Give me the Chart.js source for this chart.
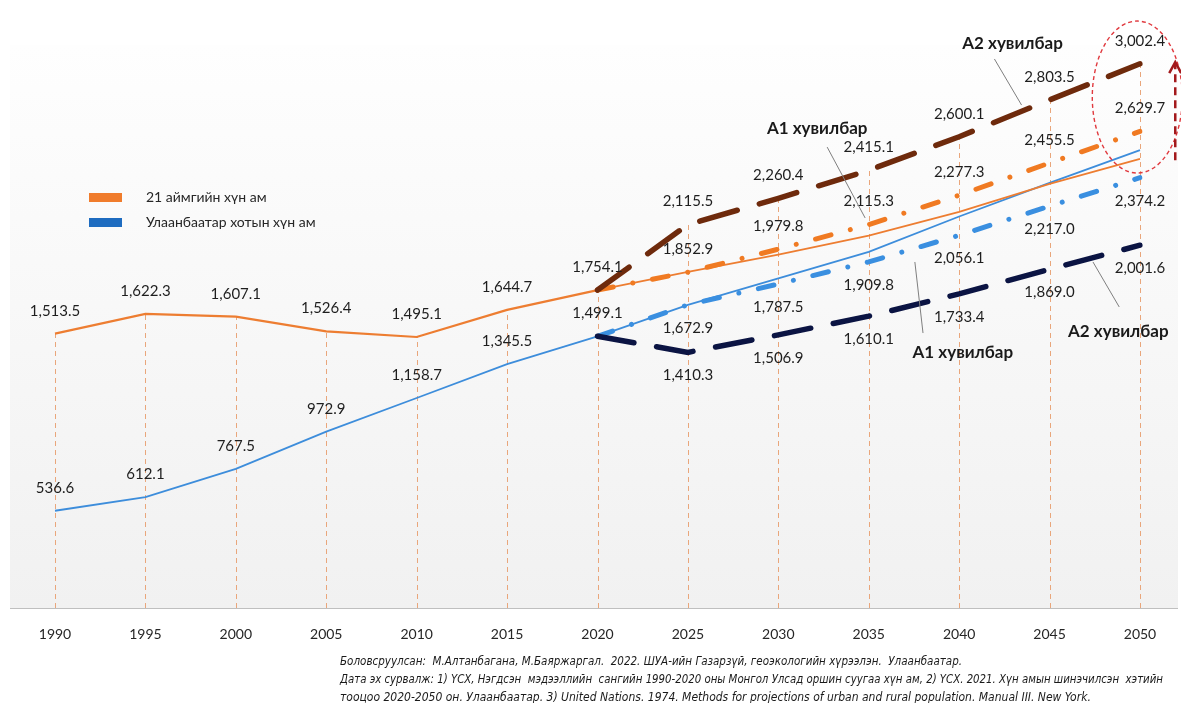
<!DOCTYPE html>
<html lang="mn">
<head>
  <meta charset="UTF-8">
  <title>Хүн амын төсөөлөл</title>
  <script src="https://cdn.jsdelivr.net/npm/chart.js"></script>
  <style>
    html, body { margin: 0; padding: 0; background: #fff; }
    #wrap { position: relative; width: 1181px; height: 703px; }
  </style>
</head>
<body>
  <div id="wrap"><canvas id="popChart" width="1181" height="703"></canvas></div>

  <script>
    // categories
    const years = ['1990', '1995', '2000', '2005', '2010', '2015', '2020', '2025', '2030', '2035', '2040', '2045', '2050'];

    // 1990-2020, thousand people
    const aimagHist = [1513.5, 1622.3, 1607.1, 1526.4, 1495.1, 1644.7, 1754.1];
    const ubHist = [536.6, 612.1, 767.5, 972.9, 1158.7, 1345.5, 1499.1];

    // 2020-2050 thin trend lines (no labels)
    const aimagTrend = [1754.1, 1855, 1950, 2055, 2185, 2340, 2478];
    const ubTrend = [1499.1, 1672, 1818, 1965, 2160, 2345, 2526];

    // 2020-2050 scenarios
    const aimagA1 = [1754.1, 1852.9, 1979.8, 2115.3, 2277.3, 2455.5, 2629.7];
    const aimagA2 = [1754.1, 2115.5, 2260.4, 2415.1, 2600.1, 2803.5, 3002.4];
    const ubA1 = [1499.1, 1672.9, 1787.5, 1909.8, 2056.1, 2217.0, 2374.2];
    const ubA2 = [1499.1, 1410.3, 1506.9, 1610.1, 1733.4, 1869.0, 2001.6];

    const legendNames = ['21 аймгийн хүн ам', 'Улаанбаатар хотын хүн ам'];
    const scenarioNames = ['A1 хувилбар', 'A2 хувилбар'];
    const sourceLines = [
      'Боловсруулсан:  М.Алтанбагана, М.Баяржаргал.  2022. ШУА-ийн Газарзүй, геоэкологийн хүрээлэн.  Улаанбаатар.',
      'Дата эх сурвалж: 1) ҮСХ, Нэгдсэн  мэдээллийн  сангийн 1990-2020 оны Монгол Улсад оршин суугаа хүн ам, 2) ҮСХ. 2021. Хүн амын шинэчилсэн  хэтийн',
      'тооцоо 2020-2050 он. Улаанбаатар. 3) United Nations. 1974. Methods for projections of urban and rural population. Manual III. New York.'
    ];

    // annotation anchors in data units: [category index, value]
    const noteA2top = { text: scenarioNames[1], at: [10.59, 3117], line: [[10.39, 3029], [10.69, 2775]] };
    const noteA1top = { text: scenarioNames[0], at: [8.43, 2648], line: [[8.54, 2543], [8.96, 2152]] };
    const noteA1bot = { text: scenarioNames[0], at: [10.04, 1412], line: [[9.51, 1909], [9.60, 1517]] };
    const noteA2bot = { text: scenarioNames[1], at: [11.76, 1528], line: [[11.48, 1909], [11.77, 1661]] };

    const hist = arr => arr.concat(new Array(years.length - arr.length).fill(null));
    const proj = arr => new Array(years.length - arr.length).fill(null).concat(arr);

    const FONT = "Lato, 'Open Sans', sans-serif";
    const fmt = v => v.toLocaleString('en-US', { minimumFractionDigits: 1, maximumFractionDigits: 1 });

    // background panel + axis line
    const panelPlugin = {
      id: 'panel',
      beforeDraw(chart) {
        const { ctx, chartArea: a } = chart;
        const top = a.top + 17, left = 10, right = chart.width - 3;
        const g = ctx.createLinearGradient(0, top, 0, a.bottom);
        g.addColorStop(0, '#fefefe');
        g.addColorStop(1, '#f1f1f1');
        ctx.save();
        ctx.fillStyle = g;
        ctx.fillRect(left, top, right - left, a.bottom - top);
        ctx.strokeStyle = '#bfbfbf';
        ctx.lineWidth = 1;
        ctx.beginPath();
        ctx.moveTo(left, a.bottom + 0.5);
        ctx.lineTo(right, a.bottom + 0.5);
        ctx.stroke();
        ctx.restore();
      }
    };

    // dashed drop lines from axis to highest value
    const dropPlugin = {
      id: 'drops',
      beforeDatasetsDraw(chart) {
        const { ctx, chartArea: a, scales } = chart;
        ctx.save();
        ctx.strokeStyle = '#e9a67b';
        ctx.lineWidth = 1;
        ctx.setLineDash([5, 4]);
        years.forEach((y, i) => {
          let top = null;
          chart.data.datasets.forEach(ds => {
            const v = ds.data[i];
            if (v != null && (top == null || v > top)) top = v;
          });
          if (top == null) return;
          const x = Math.round(scales.x.getPixelForValue(i)) + 0.5;
          ctx.beginPath();
          ctx.moveTo(x, a.bottom);
          ctx.lineTo(x, scales.y.getPixelForValue(top));
          ctx.stroke();
        });
        ctx.restore();
      }
    };

    // value labels
    const labelPlugin = {
      id: 'vals',
      afterDatasetsDraw(chart) {
        const { ctx, scales } = chart;
        ctx.save();
        ctx.font = '15px ' + FONT;
        ctx.fillStyle = '#1e1e1e';
        ctx.textAlign = 'center';
        ctx.textBaseline = 'middle';
        chart.data.datasets.forEach(ds => {
          if (!ds.lbl) return;
          ds.data.forEach((v, i) => {
            if (v == null || i < (ds.lblFrom || 0)) return;
            const x = scales.x.getPixelForValue(i);
            const y = scales.y.getPixelForValue(v) + (ds.lbl === 'above' ? -23 : 23);
            ctx.fillText(fmt(v), x, y);
          });
        });
        ctx.restore();
      }
    };

    // legend, scenario notes, ellipse, arrow, source
    const notesPlugin = {
      id: 'notes',
      afterDraw(chart) {
        const { ctx, scales, chartArea: a } = chart;
        const px = p => [scales.x.getPixelForValue(p[0]), scales.y.getPixelForValue(p[1])];
        ctx.save();

        // legend
        const legendDs = chart.data.datasets.filter(d => d.legendColor);
        legendDs.forEach((d, k) => {
          const y = 197 + k * 25;
          ctx.fillStyle = d.legendColor;
          ctx.fillRect(89, y - 4, 33, 9);
          ctx.fillStyle = '#262626';
          ctx.font = '14px ' + FONT;
          ctx.textAlign = 'left';
          ctx.textBaseline = 'middle';
          ctx.fillText(d.label, 146, y);
        });

        // scenario notes
        [noteA2top, noteA1top, noteA1bot, noteA2bot].forEach(n => {
          const p1 = px(n.line[0]), p2 = px(n.line[1]);
          ctx.strokeStyle = '#7f7f7f';
          ctx.lineWidth = 1;
          ctx.beginPath();
          ctx.moveTo(p1[0], p1[1]);
          ctx.lineTo(p2[0], p2[1]);
          ctx.stroke();
          const t = px(n.at);
          ctx.fillStyle = '#1a1a1a';
          ctx.font = 'bold 17px ' + FONT;
          ctx.textAlign = 'center';
          ctx.textBaseline = 'middle';
          ctx.fillText(n.text, t[0], t[1]);
        });

        // ellipse round the 2050 values
        const c = px([11.97, 2819]);
        ctx.strokeStyle = '#e0393e';
        ctx.lineWidth = 1.4;
        ctx.setLineDash([4, 3]);
        ctx.beginPath();
        ctx.ellipse(c[0], c[1], 45, 76, 0, 0, Math.PI * 2);
        ctx.stroke();

        // upward arrow
        const b = px([12.39, 2470]), t = px([12.39, 3012]);
        ctx.strokeStyle = '#a3191c';
        ctx.lineWidth = 2.5;
        ctx.setLineDash([8, 5]);
        ctx.beginPath();
        ctx.moveTo(b[0], b[1]);
        ctx.lineTo(t[0], t[1] + 2);
        ctx.stroke();
        ctx.setLineDash([]);
        ctx.beginPath();
        ctx.moveTo(t[0] - 6, t[1] + 11);
        ctx.lineTo(t[0], t[1]);
        ctx.lineTo(t[0] + 6, t[1] + 11);
        ctx.stroke();

        // source
        ctx.fillStyle = '#1a1a1a';
        ctx.font = "italic 12px 'Liberation Sans Narrow', 'DejaVu Sans Condensed', sans-serif";
        ctx.textAlign = 'left';
        ctx.textBaseline = 'middle';
        const widths = [622, 823, 792];
        sourceLines.forEach((s, k) => {
          ctx.fillText(s, 340, 662 + k * 18, widths[k]);
        });
        ctx.restore();
      }
    };

    const ctx = document.getElementById('popChart').getContext('2d');
    const popChart = new Chart(ctx, {
      type: 'line',
      data: {
        labels: years,
        datasets: [
          {
            label: 'A2 21 аймаг', data: proj(aimagA2), borderColor: '#6e2a0c', borderWidth: 5.5,
            borderDash: [39, 23], borderCapStyle: 'round', lbl: 'above', lblFrom: 7
          },
          {
            label: 'A2 Улаанбаатар', data: proj(ubA2), borderColor: '#0b1443', borderWidth: 5.5,
            borderDash: [37, 23], borderCapStyle: 'round', lbl: 'below', lblFrom: 7
          },
          {
            label: 'A1 21 аймаг', data: proj(aimagA1), borderColor: '#f07a22', borderWidth: 5,
            borderDash: [16, 20, 0.01, 20], borderCapStyle: 'round', lbl: 'above', lblFrom: 7
          },
          {
            label: 'A1 Улаанбаатар', data: proj(ubA1), borderColor: '#3a8fe0', borderWidth: 5,
            borderDash: [16, 20, 0.01, 20], borderCapStyle: 'round', lbl: 'below', lblFrom: 7
          },
          {
            label: legendNames[0], data: hist(aimagHist), borderColor: '#ed7d31', borderWidth: 2.2,
            lbl: 'above', legendColor: '#f07c2c'
          },
          {
            label: legendNames[1], data: hist(ubHist), borderColor: '#3d8ddb', borderWidth: 1.8,
            lbl: 'above', legendColor: '#1e6cc0'
          },
          { label: 'trend 21 аймаг', data: proj(aimagTrend), borderColor: '#ed7d31', borderWidth: 1.8 },
          { label: 'trend Улаанбаатар', data: proj(ubTrend), borderColor: '#3d8ddb', borderWidth: 1.8 }
        ]
      },
      options: {
        responsive: false,
        animation: false,
        spanGaps: false,
        elements: { point: { radius: 0, hoverRadius: 0 }, line: { tension: 0 } },
        layout: { padding: { left: 55, right: 41, top: 28, bottom: 0 } },
        plugins: { legend: { display: false }, tooltip: { enabled: false } },
        scales: {
          x: {
            grid: { display: false, drawTicks: false },
            border: { display: false },
            ticks: { color: '#262626', font: { family: FONT, size: 14 }, padding: 18, maxRotation: 0, autoSkip: false },
            afterFit: s => { s.height = 95; }
          },
          y: { display: false, min: 0, max: 3200 }
        }
      },
      plugins: [panelPlugin, dropPlugin, labelPlugin, notesPlugin]
    });
  </script>
</body>
</html>
